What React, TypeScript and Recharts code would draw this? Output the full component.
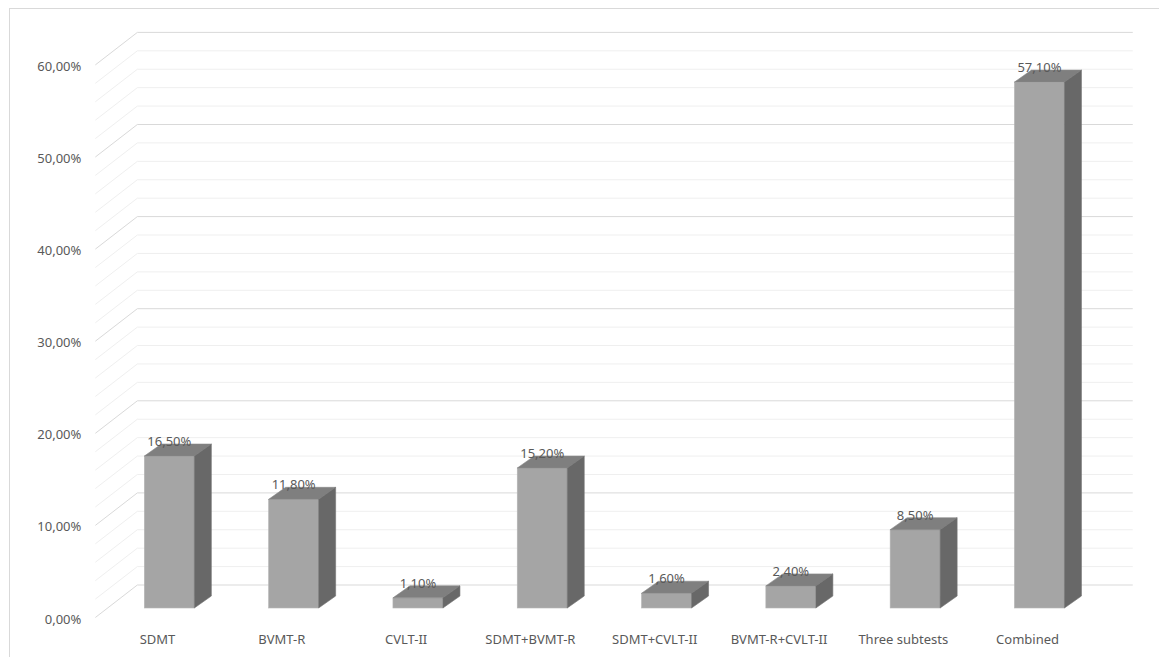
import React from 'react'
import { BarChart, Bar, XAxis, YAxis, CartesianGrid, LabelList } from 'recharts'

const categories = [
  'SDMT',
  'BVMT-R',
  'CVLT-II',
  'SDMT+BVMT-R',
  'SDMT+CVLT-II',
  'BVMT-R+CVLT-II',
  'Three subtests',
  'Combined',
]
const shares = [16.5, 11.8, 1.1, 15.2, 1.6, 2.4, 8.5, 57.1]
const yTicks = [
  0, 2, 4, 6, 8, 10, 12, 14, 16, 18, 20, 22, 24, 26, 28, 30, 32, 34, 36, 38, 40, 42, 44, 46, 48, 50,
  52, 54, 56, 58, 60,
]

const data = categories.map((name, i) => ({ name, value: shares[i] }))

const FONT = '"Noto Sans", "Open Sans", sans-serif'
const TEXT = '#595959'
// 3d depth of the bars and of the walls
const BAR_DX = 17
const BAR_DY = 12
const WALL_BACK = 23
const WALL_FRONT = 9.5

const pct = (v: number) => v.toFixed(2).replace('.', ',') + '%'

function Bar3D(props: any) {
  const { x, y, width, height } = props
  if (height == null || width == null) return null
  const r = x + width
  const b = y + height
  return (
    <g>
      <rect x={x} y={y} width={width} height={height} fill="#a5a5a5" stroke="#b4b4b4" strokeWidth={0.6} />
      <polygon
        points={`${x},${y} ${x + BAR_DX},${y - BAR_DY} ${r + BAR_DX},${y - BAR_DY} ${r},${y}`}
        fill="#7f7f7f"
        stroke="#8a8a8a"
        strokeWidth={0.6}
      />
      <polygon
        points={`${r},${y} ${r + BAR_DX},${y - BAR_DY} ${r + BAR_DX},${b - BAR_DY} ${r},${b}`}
        fill="#686868"
        stroke="#747474"
        strokeWidth={0.6}
      />
    </g>
  )
}

function GridLine(props: any) {
  const { x1, x2, y1, index } = props
  const major = index % 5 === 0
  const stroke = major ? '#d9d9d9' : '#efefef'
  const bx1 = x1 + 30
  const bx2 = x2 + 31
  const by = y1 - WALL_BACK
  return (
    <g key={`g-${index}`}>
      <line x1={x1 - 12} y1={y1 + WALL_FRONT} x2={bx1} y2={by} stroke={stroke} strokeWidth={1} />
      <line x1={bx1} y1={by} x2={bx2} y2={by} stroke={stroke} strokeWidth={1} />
    </g>
  )
}

function YTick(props: any) {
  const { x, y, payload } = props
  if (payload.value % 10 !== 0) return <g />
  return (
    <text x={x - 26} y={y + 15.5} textAnchor="end" fontSize={13} fontFamily={FONT} fill={TEXT}>
      {pct(payload.value)}
    </text>
  )
}

function XTick(props: any) {
  const { x, y, payload } = props
  return (
    <text x={x - 12} y={y + 34} textAnchor="middle" fontSize={13} fontFamily={FONT} fill={TEXT}>
      {payload.value}
    </text>
  )
}

function ValueLabel(props: any) {
  const { x, y, width, value } = props
  return (
    <text x={x + width / 2} y={y - 10} textAnchor="middle" fontSize={13} fontFamily={FONT} fill={TEXT}>
      {pct(value)}
    </text>
  )
}

export default function App() {
  return (
    <div style={{ position: 'absolute', left: 0, top: 0, width: 1159, height: 657, overflow: 'hidden', background: '#fff' }}>
      <div
        style={{
          position: 'absolute',
          left: 9,
          top: 8,
          width: 1200,
          height: 700,
          border: '1px solid #d9d9d9',
        }}
      />
      <div style={{ position: 'absolute', left: 0, top: 0 }}>
        <BarChart
          width={1159}
          height={657}
          data={data}
          margin={{ top: 55.4, right: 57.25, bottom: 19, left: 47.35 }}
        >
          <CartesianGrid vertical={false} horizontal={GridLine} />
          <XAxis
            dataKey="name"
            axisLine={false}
            tickLine={false}
            tickSize={0}
            height={30}
            interval={0}
            tick={XTick}
          />
          <YAxis
            type="number"
            domain={[0, 60]}
            ticks={yTicks}
            width={60}
            axisLine={false}
            tickLine={false}
            tickSize={0}
            tickMargin={0}
            interval={0}
            tick={YTick}
          />
          <Bar dataKey="value" barSize={50} shape={Bar3D} isAnimationActive={false}>
            <LabelList dataKey="value" content={ValueLabel} />
          </Bar>
        </BarChart>
      </div>
    </div>
  )
}
